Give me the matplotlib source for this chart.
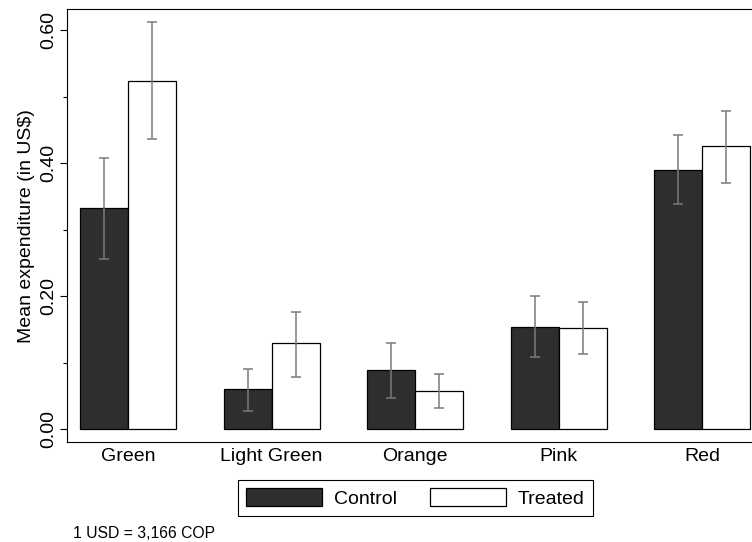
import matplotlib
matplotlib.use("Agg")
import matplotlib.pyplot as plt
import numpy as np
from matplotlib.patches import Patch

plt.rcParams['font.family'] = ['Liberation Sans', 'DejaVu Sans']

categories = ["Green", "Light Green", "Orange", "Pink", "Red"]
control_mean = [0.332, 0.060, 0.089, 0.154, 0.389]
control_lo = [0.256, 0.027, 0.047, 0.109, 0.338]
control_hi = [0.407, 0.091, 0.130, 0.200, 0.442]
treated_mean = [0.524, 0.129, 0.057, 0.152, 0.425]
treated_lo = [0.436, 0.078, 0.032, 0.113, 0.370]
treated_hi = [0.612, 0.177, 0.083, 0.191, 0.479]
series_labels = ["Control", "Treated"]
footnote = "1 USD = 3,166 COP"
ylabel = "Mean expenditure (in US$)"

fig = plt.figure(figsize=(7.52, 5.42), dpi=100)
ax = fig.add_axes([0.0895, 0.184, 0.9251, 0.7994])

x = np.arange(len(categories))
w = 0.334
dark = "#2e2e2e"
errc = "#7a7a7a"

cm = np.array(control_mean); tm = np.array(treated_mean)
ax.bar(x - w / 2, cm, width=w, color=dark, edgecolor="black", linewidth=0.9, zorder=2)
ax.bar(x + w / 2, tm, width=w, color="white", edgecolor="black", linewidth=0.9, zorder=2)

ax.errorbar(x - w / 2, cm, yerr=[cm - np.array(control_lo), np.array(control_hi) - cm],
            fmt="none", ecolor=errc, elinewidth=1.1, capsize=3.8, capthick=1.1, zorder=3)
ax.errorbar(x + w / 2, tm, yerr=[tm - np.array(treated_lo), np.array(treated_hi) - tm],
            fmt="none", ecolor=errc, elinewidth=1.1, capsize=3.8, capthick=1.1, zorder=3)

ax.set_xlim(-0.423, 4.423)
ax.set_ylim(-0.0195, 0.6316)
ax.set_xticks(x)
ax.set_xticklabels(categories, fontsize=14)
ax.tick_params(axis='x', length=0, pad=4)
ax.set_yticks([0.0, 0.2, 0.4, 0.6])
ax.set_yticklabels(["0.00", "0.20", "0.40", "0.60"], fontsize=14, rotation=90, va="center")
ax.set_yticks([0.1, 0.3, 0.5], minor=True)
ax.tick_params(axis='y', which='major', length=5, width=0.8, pad=2)
ax.tick_params(axis='y', which='minor', length=3, width=0.8)
for s in ax.spines.values():
    s.set_linewidth(0.8)
    s.set_color("black")

ax.set_ylabel(ylabel, fontsize=14)
ax.yaxis.set_label_coords(-0.0465, 0.5)

handles = [Patch(facecolor=dark, edgecolor="black", linewidth=0.9),
           Patch(facecolor="white", edgecolor="black", linewidth=0.9)]
leg = fig.legend(handles, series_labels, loc="center", bbox_to_anchor=(0.5523, 0.0818),
                 bbox_transform=fig.transFigure, ncol=2, fontsize=14, frameon=True,
                 fancybox=False, shadow=False, framealpha=1, edgecolor="black",
                 handlelength=3.9, handleheight=1.08, handletextpad=0.62,
                 columnspacing=1.68, borderpad=0.42)
leg.get_frame().set_linewidth(0.8)

fig.text(0.0967, 0.0083, footnote, fontsize=11.3, ha="left", va="baseline")

fig.savefig("out.png", dpi=100)
